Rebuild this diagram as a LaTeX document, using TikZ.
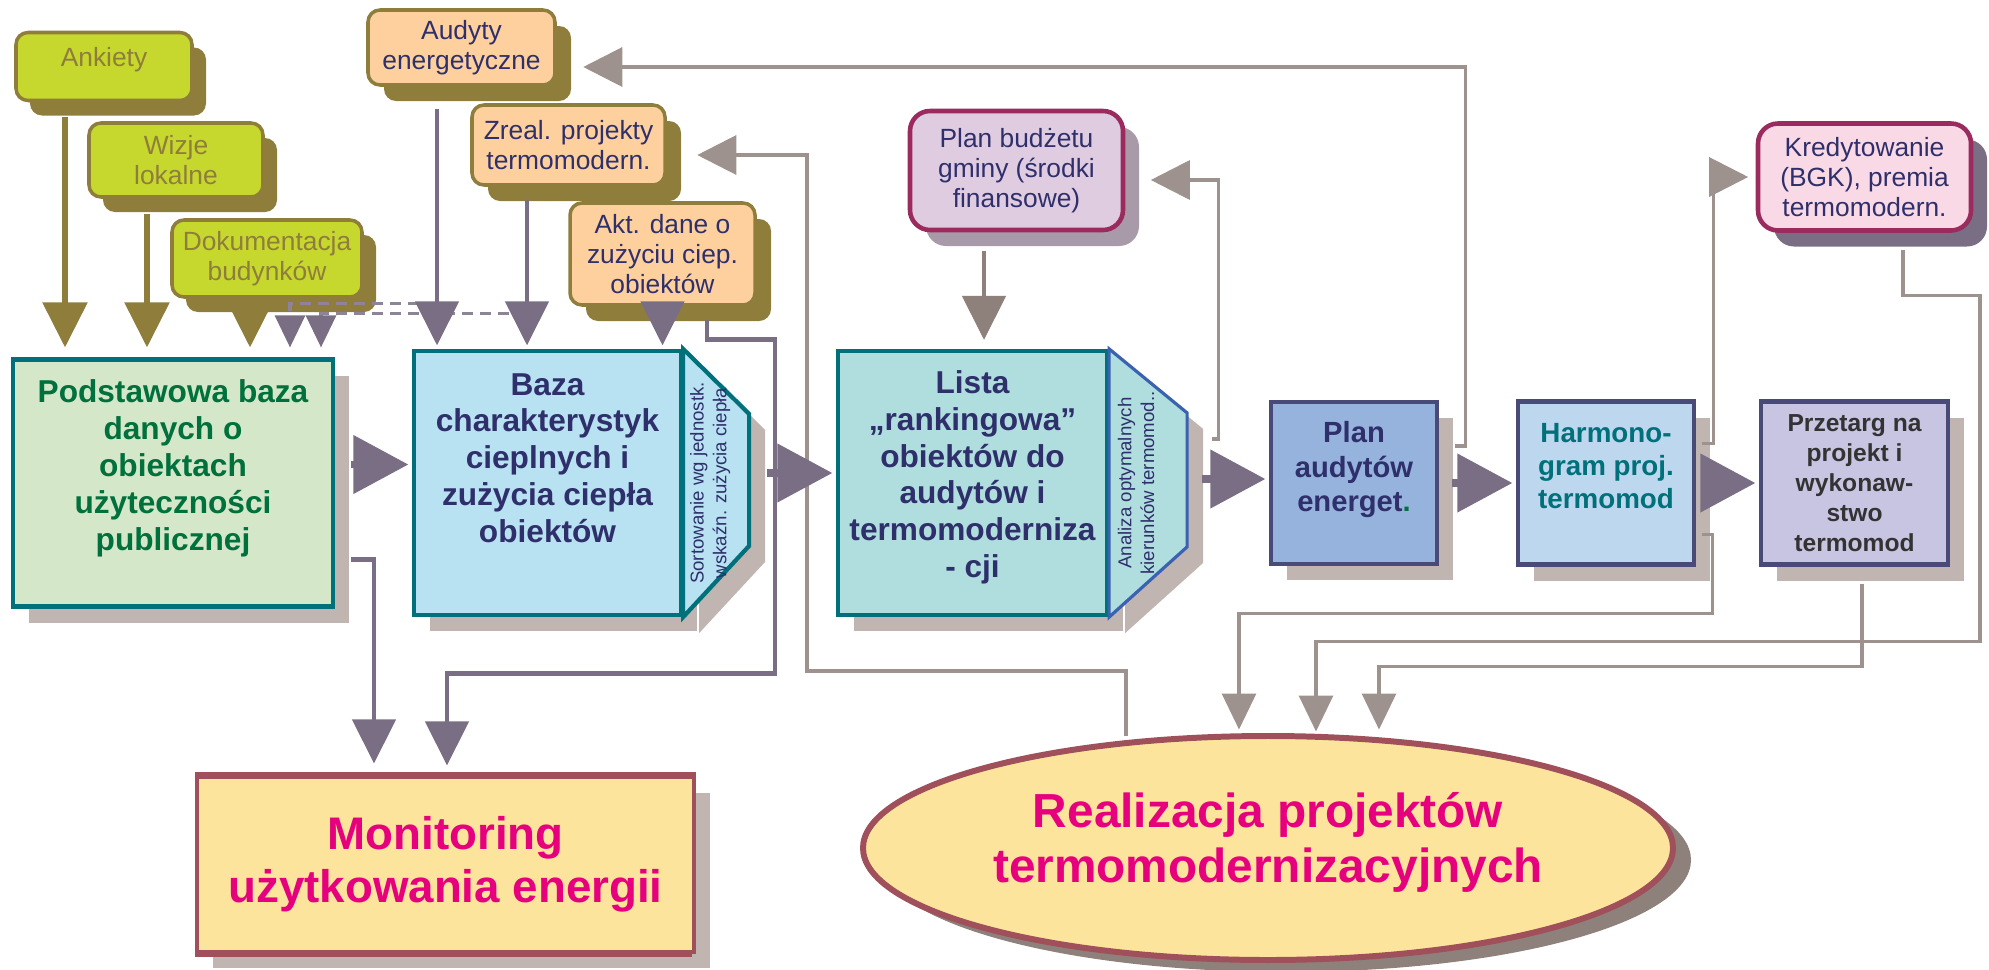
\documentclass[tikz,border=0pt]{standalone}
\usepackage{fontspec}
\setmainfont{Liberation Sans}
\usetikzlibrary{arrows.meta,positioning,shadows,shapes.geometric}

\definecolor{olv}{HTML}{8F7E3B}
\definecolor{limefill}{HTML}{C6D72D}
\definecolor{peach}{HTML}{FDD09E}
\definecolor{navytext}{HTML}{2E2F6B}
\definecolor{tealline}{HTML}{00707A}
\definecolor{greentext}{HTML}{00703C}
\definecolor{podstfill}{HTML}{D4E8C9}
\definecolor{bazafill}{HTML}{B8E1F1}
\definecolor{listafill}{HTML}{B0DEDF}
\definecolor{tabblue}{HTML}{3A62B0}
\definecolor{planfill}{HTML}{95B3DC}
\definecolor{harmfill}{HTML}{BDD7EE}
\definecolor{przetfill}{HTML}{C8C5E2}
\definecolor{przettext}{HTML}{333333}
\definecolor{boxline}{HTML}{4A4A78}
\definecolor{yellowfill}{HTML}{FDE49D}
\definecolor{maroonline}{HTML}{A0505A}
\definecolor{pinktext}{HTML}{E6007E}
\definecolor{plumline}{HTML}{9B2B5E}
\definecolor{budzetfill}{HTML}{E0CCE1}
\definecolor{kredytfill}{HTML}{F9D9E5}
\definecolor{purpline}{HTML}{7A6E84}
\definecolor{grayline}{HTML}{9E928E}
\definecolor{shadowgray}{HTML}{C0B5B1}
\definecolor{darkshadow}{HTML}{8E807B}
\definecolor{dashgray}{HTML}{8E8498}
\definecolor{budzetshadow}{HTML}{A89AA8}

\begin{document}
\begin{tikzpicture}[
            > = {Triangle[length=4.4mm,width=4.3mm]}, % arrow head style
            shorten > = 1pt, % don't touch arrow head to node
            on grid, % distances between node centres
            inbox/.style = {shape=rectangle, rounded corners=1.2mm, line width=1pt, align=center,
                            inner sep=1pt, font=\fontsize{7.5}{8.6}\selectfont},
            limebox/.style = {inbox, draw=olv, fill=limefill, text=olv,
                              drop shadow={shadow xshift=1.4mm, shadow yshift=-1.5mm, opacity=1, fill=olv}},
            peachbox/.style = {inbox, draw=olv, fill=peach, text=navytext,
                               drop shadow={shadow xshift=1.6mm, shadow yshift=-1.6mm, opacity=1, fill=olv}},
            plumbox/.style = {inbox, draw=plumline, line width=1.3pt, rounded corners=2mm, text=navytext,
                              drop shadow={shadow xshift=1.6mm, shadow yshift=-1.6mm, opacity=1, fill=#1}},
            mainbox/.style = {shape=rectangle, line width=1.2pt, align=center, inner sep=2pt,
                              font=\fontsize{9}{10.5}\selectfont\bfseries,
                              drop shadow={shadow xshift=1.6mm, shadow yshift=-1.6mm, opacity=1, fill=shadowgray}},
            tablabel/.style = {rotate=90, align=center, inner sep=0pt, text=navytext,
                               font=\fontsize{5.3}{6.5}\selectfont},
            tabshadow/.style = {fill=shadowgray},
            mainflow/.style = {draw=purpline, line width=2.2pt, -{Triangle[length=5.5mm,width=5.7mm]}},
            feedin/.style = {draw=purpline, line width=1.4pt, ->},
            olvarrow/.style = {draw=olv, line width=1.6pt, -{Triangle[length=4.5mm,width=4.4mm]}, shorten >=1mm},
            dashline/.style = {draw=dashgray, line width=0.9pt, dash pattern=on 1.1mm off 0.7mm,
                               -{Triangle[length=3.2mm,width=3mm,color=purpline]}, shorten >=1mm},
            backline/.style = {draw=grayline, line width=0.9pt, -{Triangle[length=3.9mm,width=3.9mm]}},
            backin/.style = {backline, -{Triangle[length=3.6mm,width=3.4mm]}},
            budarrow/.style = {draw=darkshadow, line width=1.4pt, ->, shorten >=0.9mm}
        ]
        \useasboundingbox (0,0) rectangle (19.89,-9.70);

        % main row
        \node[mainbox, draw=tealline, fill=podstfill, text=greentext, minimum width=3.2cm, minimum height=2.47cm]
            (podst) at (1.73,-4.83) {Podstawowa baza\\danych o\\obiektach\\użyteczności\\publicznej\rule[-3.6mm]{0pt}{0pt}};
        \node[mainbox, draw=tealline, fill=bazafill, text=navytext, minimum width=2.67cm, minimum height=2.64cm]
            (baza) [right=3.745cm of podst] {Baza\\charakterystyk\\cieplnych i\\zużycia ciepła\\obiektów\rule[-5mm]{0pt}{0pt}};
        \node[mainbox, draw=tealline, fill=listafill, text=navytext, minimum width=2.69cm, minimum height=2.64cm]
            (lista) [right=4.25cm of baza] {Lista\\„rankingowa”\\obiektów do\\audytów i\\termomoderniza\\- cji\rule[-1.8mm]{0pt}{0pt}};
        \node[mainbox, draw=boxline, fill=planfill, text=navytext, font=\fontsize{8.3}{9.9}\selectfont\bfseries,
              minimum width=1.66cm, minimum height=1.62cm]
            (planaud) [right=3.815cm of lista] {Plan\\audytów\\energet{\color{greentext}.}\rule[-3.3mm]{0pt}{0pt}};
        \node[mainbox, draw=boxline, fill=harmfill, text=tealline, font=\fontsize{7.9}{9.5}\selectfont\bfseries,
              minimum width=1.76cm, minimum height=1.63cm]
            (harm) [right=2.52cm of planaud] {Harmono-\\gram proj.\\termomod\rule[-3.4mm]{0pt}{0pt}};
        \node[mainbox, draw=boxline, fill=przetfill, text=przettext, font=\fontsize{7}{8.5}\selectfont\bfseries,
              minimum width=1.87cm, minimum height=1.63cm]
            (przet) [right=2.485cm of harm] {Przetarg na\\projekt i\\wykonaw-\\stwo\\termomod};

        % results
        \node[mainbox, draw=maroonline, line width=0.9pt, fill=yellowfill, text=pinktext,
              font=\fontsize{13}{15}\selectfont\bfseries, minimum width=4.97cm, minimum height=1.75cm]
            (monitor) [below right=3.815cm and 2.725cm of podst] {Monitoring\\użytkowania energii};
        \node[ellipse, draw=maroonline, line width=1.7pt, fill=yellowfill, text=pinktext, align=center, inner sep=0pt,
              font=\fontsize{13.6}{15.6}\selectfont\bfseries, minimum width=8.1cm, minimum height=2.24cm,
              drop shadow={shadow xshift=1.8mm, shadow yshift=-1.2mm, opacity=1, fill=darkshadow}]
            (real) [below right=3.65cm and 2.955cm of lista] {Realizacja projektów\\termomodernizacyjnych\rule[-2.1mm]{0pt}{0pt}};
        \draw[maroonline, line width=1.8pt] (monitor.north west) -- (monitor.north east)
                                            (monitor.south west) -- (monitor.south east);

        % inputs
        \node[limebox, minimum width=1.76cm, minimum height=0.68cm] (ankiety) [above left=4.165cm and 0.69cm of podst] {Ankiety\rule[-2mm]{0pt}{0pt}};
        \node[limebox, minimum width=1.74cm, minimum height=0.74cm] (wizje) [below right=0.935cm and 0.72cm of ankiety] {Wizje\\lokalne};
        \node[limebox, minimum width=1.9cm, minimum height=0.77cm] (dokum) [below right=0.985cm and 0.91cm of wizje] {Dokumentacja\\budynków};
        \node[peachbox, minimum width=1.87cm, minimum height=0.75cm] (audyty) [above left=4.355cm and 0.86cm of baza] {Audyty\\energetyczne};
        \node[peachbox, minimum width=1.93cm, minimum height=0.8cm] (zreal) [below right=0.975cm and 1.07cm of audyty] {Zreal. projekty\\termomodern.};
        \node[peachbox, minimum width=1.85cm, minimum height=1.02cm] (akt) [below right=1.09cm and 0.94cm of zreal] {Akt. dane o\\zużyciu ciep.\\obiektów};
        \node[plumbox=budzetshadow, fill=budzetfill, minimum width=2.13cm, minimum height=1.19cm]
            (budzet) [above right=3.125cm and 0.44cm of lista] {Plan budżetu\\gminy (środki\\finansowe)};
        \node[plumbox=purpline, fill=kredytfill, minimum width=2.13cm, minimum height=1.07cm]
            (kredyt) [above right=3.06cm and 0.1cm of przet] {Kredytowanie\\(BGK), premia\\termomodern.};

        % side tabs
        \fill[tabshadow] ([xshift=1.6mm,yshift=-1.6mm]baza.north east) -- ++(0.66,-0.65) -- ++(0,-1.32)
            -- ([xshift=1.6mm,yshift=-1.6mm]baza.south east) -- cycle;
        \filldraw[draw=tealline, fill=bazafill, line width=1.2pt] (baza.north east) -- ++(0.66,-0.65) -- ++(0,-1.32)
            -- (baza.south east) -- cycle;
        \node[tablabel] (sortlab) at ([xshift=2.7mm]baza.east) {Sortowanie wg jednostk.\\wskaźn. zużycia ciepła};
        \fill[tabshadow] ([xshift=1.6mm,yshift=-1.6mm]lista.north east) -- ++(0.78,-0.64) -- ++(0,-1.34)
            -- ([xshift=1.6mm,yshift=-1.6mm]lista.south east) -- cycle;
        \filldraw[draw=tabblue, fill=listafill, line width=0.9pt] (lista.north east) -- ++(0.78,-0.64) -- ++(0,-1.34)
            -- (lista.south east) -- cycle;
        \node[tablabel] (analab) at ([xshift=2.7mm]lista.east) {Analiza optymalnych\\kierunków termomod..};

        % dashed returns into the base
        \draw[dashline] ([xshift=-2.45mm,yshift=5.4mm]audyty.south |- podst.north) -| ([xshift=11.7mm]podst.north);
        \draw[dashline] ([xshift=-4.15mm,yshift=4.4mm]zreal.south |- podst.north) -| ([xshift=14.8mm]podst.north);

        \draw[olvarrow] ([xshift=-3.9mm,yshift=-1.5mm]ankiety.south) -- ([xshift=-3.9mm]ankiety.south |- podst.north);
        \draw[olvarrow] ([xshift=-2.9mm,yshift=-1.5mm]wizje.south) -- ([xshift=-2.9mm]wizje.south |- podst.north);
        \draw[olvarrow] ([xshift=-1.7mm,yshift=-0.6mm]dokum.south) -- ([xshift=-1.7mm]dokum.south |- podst.north);

        \draw[feedin] ([xshift=-2.45mm,yshift=-2.2mm]audyty.south) -- ([xshift=-2.45mm]audyty.south |- baza.north);
        \draw[feedin] ([xshift=-4.15mm,yshift=-1.3mm]zreal.south) -- ([xshift=-4.15mm]zreal.south |- baza.north);
        \draw[feedin] ([yshift=0.3mm]akt.south) -- (akt.south |- baza.north);
        \draw[budarrow] ([xshift=-3.25mm,yshift=-1.9mm]budzet.south) -- ([xshift=-3.25mm]budzet.south |- lista.north);

        % to monitoring
        \draw[feedin, shorten >=1.2mm] ([xshift=1.6mm,yshift=-7.65mm]podst.east) -| ([xshift=-7.15mm]monitor.north);
        \draw[feedin, shorten >=1mm] ([xshift=4.45mm,yshift=-1.3mm]akt.south) -- ++(0,-0.2) -- ++(0.68,0)
            -- ++(0,-3.34) -| ([xshift=0.15mm]monitor.north);

        % grey returns
        \draw[backline] ([xshift=1.6mm,yshift=3.7mm]planaud.east) -- ++(0.1,0) |- ([xshift=2.3mm,yshift=-1.95mm]audyty.east);
        \draw[backline] ([xshift=10.3mm,yshift=4.4mm]lista.east) -- ++(0.06,0) |- ([xshift=2.2mm,yshift=-0.95mm]budzet.east);
        \draw[backline] ([xshift=-14.2mm,yshift=-0.3mm]real.north) -- ++(0,0.65) -- ++(-3.19,0)
            |- ([xshift=2.7mm,yshift=-1mm]zreal.east);
        \draw[backline] ([xshift=0.6mm,yshift=3.95mm]harm.east) -- ++(0.11,0) |- ([xshift=-0.4mm]kredyt.west);
        \draw[backin] ([xshift=0.6mm,yshift=-5.15mm]harm.east) -- ++(0.1,0) -- ++(0,-0.79) -| ([xshift=-2.9mm]real.north);
        \draw[backin] ([xshift=3.85mm,yshift=-1.7mm]kredyt.south) -- ++(0,-0.46) -- ++(0.77,0) -- ++(0,-3.46)
            -| ([xshift=4.8mm,yshift=-0.2mm]real.north);
        \draw[backin] ([xshift=0.75mm,yshift=-1.7mm]przet.south) -- ++(0,-0.83) -| ([xshift=11.1mm]real.north);

        % main flow
        \draw[mainflow] ([xshift=1.6mm,yshift=1.85mm]podst.east) -- ([yshift=1.85mm]podst.east -| baza.west);
        \draw[mainflow] ([xshift=8.4mm,yshift=1mm]baza.east) -- ([yshift=1mm]baza.east -| lista.west);
        \draw[mainflow] ([xshift=9.3mm,yshift=0.4mm]lista.east) -- ([yshift=0.4mm]lista.east -| planaud.west);
        \draw[mainflow] ([xshift=1.3mm]planaud.east) -- (planaud.east -| harm.west);
        \draw[mainflow] ([xshift=0.5mm]harm.east) -- (harm.east -| przet.west);
    \end{tikzpicture}
\end{document}
